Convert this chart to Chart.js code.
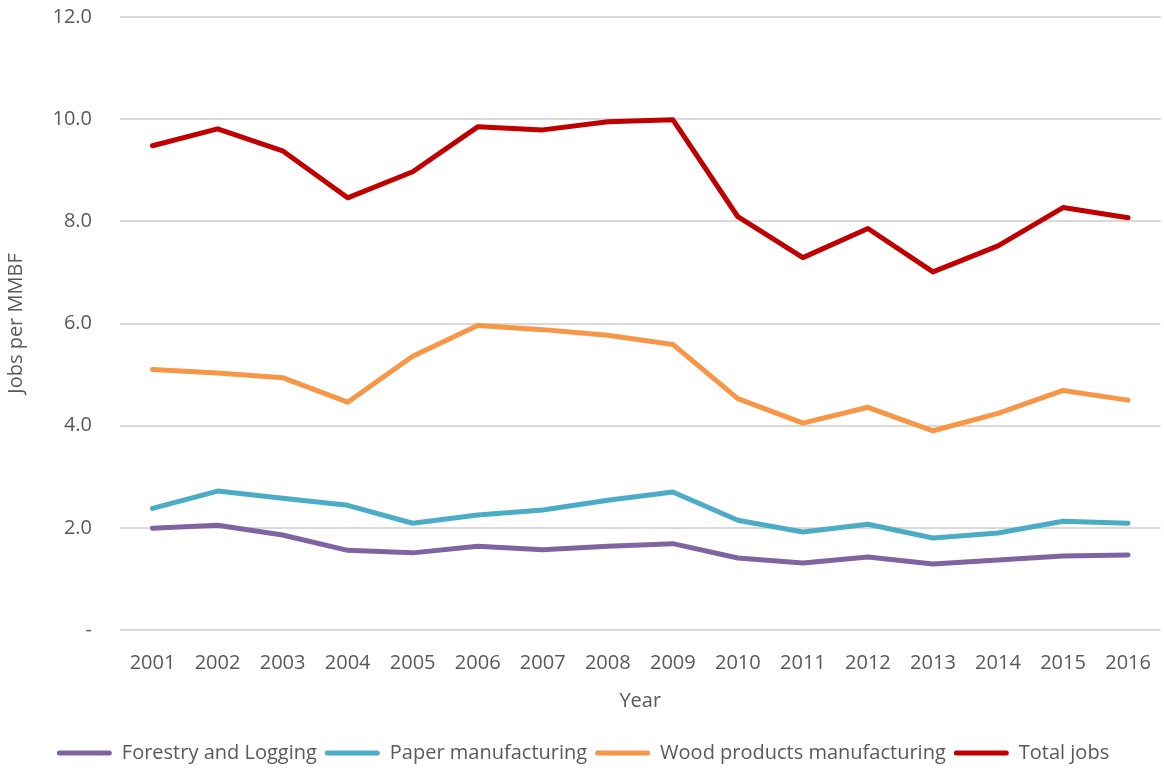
<!DOCTYPE html>
<html>
<head>
<meta charset="utf-8">
<script src="https://cdn.jsdelivr.net/npm/chart.js@4"></script>
<style>
  html, body { margin: 0; padding: 0; background: #fff; }
  #wrap { width: 1164px; height: 773px; }
</style>
</head>
<body>
<div id="wrap"><canvas id="myChart" width="1164" height="773"></canvas></div>
<script>
const years = ['2001', '2002', '2003', '2004', '2005', '2006', '2007', '2008',
               '2009', '2010', '2011', '2012', '2013', '2014', '2015', '2016'];
const forestry = [1.99, 2.05, 1.86, 1.56, 1.51, 1.64, 1.57, 1.64, 1.69, 1.41, 1.31, 1.43, 1.29, 1.37, 1.45, 1.47];
const paper    = [2.38, 2.72, 2.58, 2.44, 2.09, 2.25, 2.35, 2.54, 2.70, 2.15, 1.92, 2.07, 1.80, 1.90, 2.13, 2.09];
const wood     = [5.10, 5.03, 4.94, 4.46, 5.36, 5.96, 5.88, 5.77, 5.59, 4.53, 4.05, 4.36, 3.90, 4.24, 4.69, 4.50];
const total    = [9.48, 9.81, 9.38, 8.46, 8.97, 9.85, 9.79, 9.95, 9.99, 8.09, 7.29, 7.86, 7.01, 7.52, 8.27, 8.07];
const seriesNames = ['Forestry and Logging', 'Paper manufacturing', 'Wood products manufacturing', 'Total jobs'];
const yTicks = [0, 2, 4, 6, 8, 10, 12];

const colors = ['#8064A2', '#4BACC6', '#F79646', '#C00000'];
const textColor = '#595959';
const fontFamily = '"Open Sans", Lato, sans-serif';

const datasets = [forestry, paper, wood, total].map((values, i) => ({
    label: seriesNames[i],
    data: values,
    borderColor: colors[i],
    backgroundColor: colors[i],
    borderWidth: 5,
    pointRadius: 0,
    tension: 0,
    borderCapStyle: 'round',
    borderJoinStyle: 'round',
}));

const ctx = document.getElementById('myChart').getContext('2d');
const myChart = new Chart(ctx, {
    type: 'line',
    data: { labels: years, datasets },
    options: {
        responsive: false,
        animation: false,
        layout: { padding: { top: 0, right: 2, left: 4, bottom: 0 } },
        plugins: {
            tooltip: { enabled: false },
            legend: {
                position: 'bottom',
                labels: {
                    color: textColor,
                    font: { family: fontFamily, size: 20 },
                    boxWidth: 55,
                    boxHeight: 5,
                    padding: 8,
                    generateLabels: (chart) => chart.data.datasets.map((ds, i) => ({
                        text: ds.label,
                        fillStyle: ds.borderColor,
                        strokeStyle: ds.borderColor,
                        lineWidth: 0,
                        borderRadius: 2.5,
                        fontColor: textColor,
                        datasetIndex: i,
                        hidden: false,
                    })),
                },
            },
        },
        scales: {
            x: {
                offset: true,
                grid: { display: false },
                border: { display: false },
                ticks: {
                    color: textColor,
                    font: { family: fontFamily, size: 20 },
                    maxRotation: 0,
                    padding: 13,
                },
                title: {
                    display: true,
                    text: 'Year',
                    color: textColor,
                    font: { family: fontFamily, size: 20 },
                    padding: { top: 1, bottom: 22 },
                },
            },
            y: {
                min: 0,
                max: 12,
                afterBuildTicks: (axis) => {
                    axis.ticks = yTicks.map(v => ({ value: v }));
                },
                afterFit: (axis) => { axis.width = 116; },
                // invisible tick marks push the labels left without adding top padding
                grid: { color: '#D9D9D9', lineWidth: 2, drawTicks: true, tickLength: 23, tickColor: 'rgba(0,0,0,0)' },
                border: { display: false },
                ticks: {
                    color: textColor,
                    font: { family: fontFamily, size: 20 },
                    padding: 5,
                    callback: (value) => value === 0 ? '-' : value.toFixed(1),
                },
                title: {
                    display: true,
                    text: 'Jobs per MMBF',
                    color: textColor,
                    font: { family: fontFamily, size: 20 },
                    padding: { top: 0, bottom: 0 },
                },
            },
        },
    },
});
</script>
</body>
</html>
